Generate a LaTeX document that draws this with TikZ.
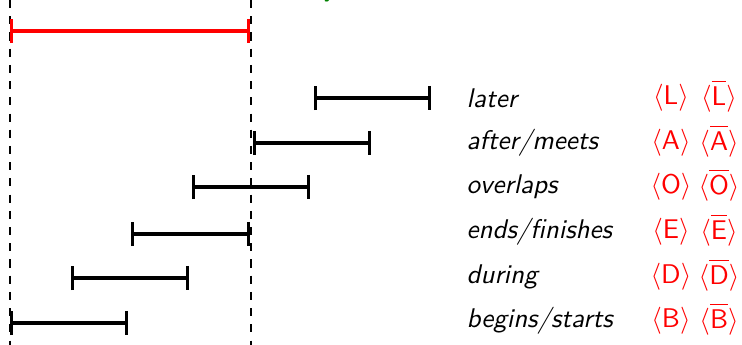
\documentclass[tikz,border=0pt]{standalone}
\usetikzlibrary{arrows.meta}
\renewcommand{\familydefault}{\sfdefault}
\begin{document}
\begin{tikzpicture}[x=0.37pt,y=-0.37pt,
  span/.style={very thick,{Bar[width=9pt]}-{Bar[width=9pt]}},
  rel/.style={anchor=west,font=\itshape},
  sym/.style={red}]
\useasboundingbox (0,0) rectangle (742,345);
\draw[dashed] (10,0) -- (10,345);
\draw[dashed] (251,0) -- (251,345);
\node[green!50!black] (tag) at (330,-7) {y};

% reference interval
\draw[span,red] (10,31) -- (250,31);

\draw[span] (314,98) -- (431,98);
\node[rel] (later) at (457,98) {later};
\node[sym] (laterL) at (671,98) {$\langle\mathsf{L}\rangle$};
\node[sym] (laterR) at (719,96) {$\langle\overline{\mathstrut\mathsf{L}}\rangle$};

\draw[span] (253,143) -- (371,143);
\node[rel] (after) at (457,143) {after/meets};
\node[sym] (afterL) at (671,143) {$\langle\mathsf{A}\rangle$};
\node[sym] (afterR) at (719,141) {$\langle\overline{\mathstrut\mathsf{A}}\rangle$};

\draw[span] (192,187) -- (310,187);
\node[rel] (overlaps) at (457,187) {overlaps};
\node[sym] (overlapsL) at (671,187) {$\langle\mathsf{O}\rangle$};
\node[sym] (overlapsR) at (719,185) {$\langle\overline{\mathstrut\mathsf{O}}\rangle$};

\draw[span] (131,234) -- (250,234);
\node[rel] (ends) at (457,232) {ends/finishes};
\node[sym] (endsL) at (671,232) {$\langle\mathsf{E}\rangle$};
\node[sym] (endsR) at (719,230) {$\langle\overline{\mathstrut\mathsf{E}}\rangle$};

\draw[span] (71,278) -- (189,278);
\node[rel] (during) at (457,277) {during};
\node[sym] (duringL) at (671,277) {$\langle\mathsf{D}\rangle$};
\node[sym] (duringR) at (719,275) {$\langle\overline{\mathstrut\mathsf{D}}\rangle$};

\draw[span] (10,323) -- (128,323);
\node[rel] (begins) at (457,321) {begins/starts};
\node[sym] (beginsL) at (671,321) {$\langle\mathsf{B}\rangle$};
\node[sym] (beginsR) at (719,319) {$\langle\overline{\mathstrut\mathsf{B}}\rangle$};
\end{tikzpicture}
\end{document}
